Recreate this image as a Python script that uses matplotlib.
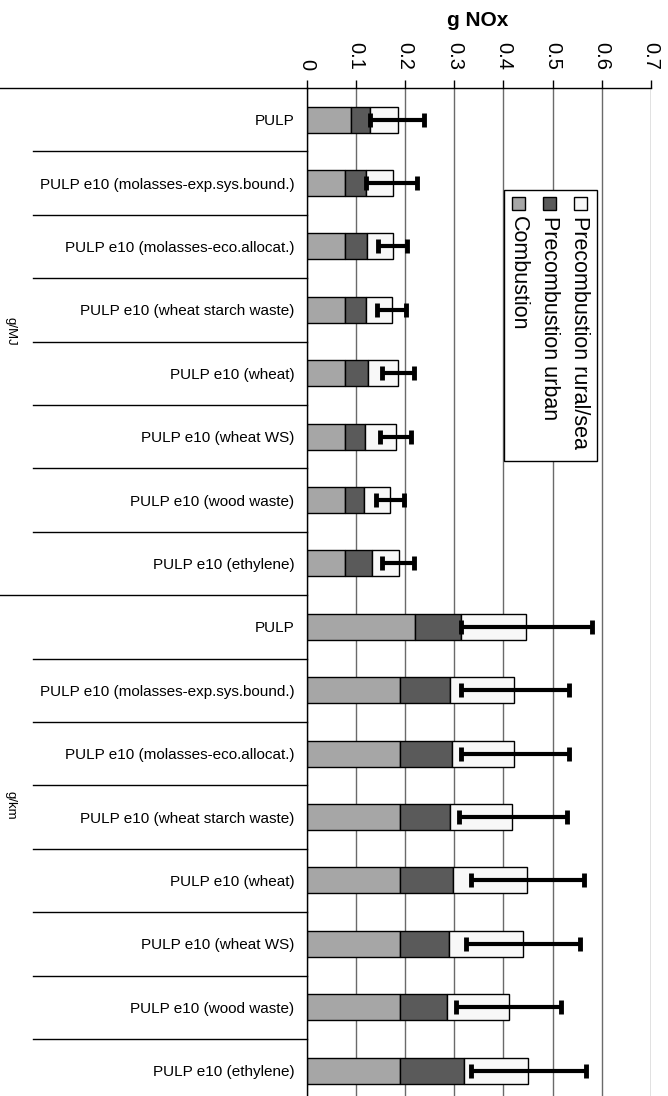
import numpy as np
import matplotlib
matplotlib.use('Agg')
import matplotlib.pyplot as plt
import matplotlib.transforms as mtransforms
from matplotlib.patches import Rectangle
from matplotlib.lines import Line2D

plt.rcParams['font.family'] = ['Liberation Sans', 'DejaVu Sans']

# data (g NOx)
labels = ['PULP', 'PULP e10 (molasses-exp.sys.bound.)', 'PULP e10 (molasses-eco.allocat.)',
          'PULP e10 (wheat starch waste)', 'PULP e10 (wheat)', 'PULP e10 (wheat WS)',
          'PULP e10 (wood waste)', 'PULP e10 (ethylene)'] * 2
groups = ['g/MJ', 'g/km']

combustion = [0.090, 0.078, 0.078, 0.078, 0.078, 0.078, 0.078, 0.078,
              0.220, 0.190, 0.190, 0.190, 0.190, 0.190, 0.190, 0.190]
precomb_urban = [0.038, 0.042, 0.044, 0.042, 0.046, 0.040, 0.038, 0.054,
                 0.093, 0.102, 0.106, 0.102, 0.108, 0.100, 0.095, 0.130]
precomb_rural = [0.057, 0.055, 0.053, 0.053, 0.062, 0.064, 0.053, 0.055,
                 0.134, 0.130, 0.126, 0.126, 0.151, 0.149, 0.127, 0.131]
err_low = [0.128, 0.120, 0.145, 0.143, 0.153, 0.149, 0.141, 0.153,
           0.313, 0.313, 0.313, 0.310, 0.333, 0.324, 0.304, 0.334]
err_high = [0.239, 0.225, 0.204, 0.202, 0.217, 0.212, 0.198, 0.218,
            0.581, 0.534, 0.533, 0.529, 0.565, 0.555, 0.518, 0.569]

W, H = 668, 1096
fig = plt.figure(figsize=(W / 100, H / 100), dpi=100)
# pixel coords with origin top-left
px = mtransforms.Affine2D().scale(1 / W, -1 / H).translate(0, 1) + fig.transFigure

ax = fig.add_axes([307 / W, 0, (650.7 - 307) / W, 1 - 88 / H])

y = np.arange(len(labels))
comb = np.array(combustion)
urb = np.array(precomb_urban)
rur = np.array(precomb_rural)
total = comb + urb + rur
barH = 0.41

c_comb, c_urb, c_rur = '#a6a6a6', '#5a5a5a', '#f8f8f8'
ax.barh(y, comb, height=barH, color=c_comb, edgecolor='black', linewidth=1, zorder=2)
ax.barh(y, urb, left=comb, height=barH, color=c_urb, edgecolor='black', linewidth=1, zorder=2)
ax.barh(y, rur, left=comb + urb, height=barH, color=c_rur, edgecolor='black', linewidth=1, zorder=2)

xerr = [total - np.array(err_low), np.array(err_high) - total]
ax.errorbar(total, y, xerr=xerr, fmt='none', ecolor='black', elinewidth=3,
            capsize=5, capthick=3.5, zorder=3)

ax.set_xlim(0, 0.7)
ax.set_ylim(15.4, -0.5)
ax.set_axisbelow(True)
ax.xaxis.grid(True, color='#6a6a6a', linewidth=1)

ax.xaxis.tick_top()
ticks = np.round(np.arange(0, 0.71, 0.1), 1)
ax.set_xticks(ticks)
ax.set_xticklabels(['0' if t == 0 else f'{t:g}' for t in ticks], rotation=-90, fontsize=14.5)
ax.tick_params(axis='x', direction='out', length=6, width=1, pad=7, top=True, bottom=False,
               labeltop=True, labelbottom=False)

ax.set_yticks(y)
ax.set_yticklabels(labels, fontsize=11)
ax.tick_params(axis='y', length=0, pad=9)

for s in ['right', 'bottom']:
    ax.spines[s].set_visible(False)
for s in ['top', 'left']:
    ax.spines[s].set_color('black')
    ax.spines[s].set_linewidth(1)

# row separators on the category side
blend = mtransforms.blended_transform_factory(fig.transFigure, ax.transData)
for i in range(-1, len(labels) - 1):
    x0 = 0 if i in (-1, 7) else 33 / W
    fig.add_artist(Line2D([x0, 307 / W], [i + 0.5, i + 0.5], transform=blend,
                          color='black', linewidth=1))

# group labels
fig.text(10, 331, groups[0], transform=px, rotation=-90, ha='center', va='center', fontsize=9.5)
fig.text(10, 805, groups[1], transform=px, rotation=-90, ha='center', va='center', fontsize=9.5)

# title
fig.text(478, 20, 'g NOx', transform=px, ha='center', va='center', fontsize=15, fontweight='bold')

# legend, rotated
fig.add_artist(Rectangle((504, 190), 93, 271, transform=px, facecolor='white',
                         edgecolor='black', linewidth=1, zorder=5))
entries = [('Precombustion rural/sea', c_rur, 580), ('Precombustion urban', c_urb, 549.5),
           ('Combustion', c_comb, 518.5)]
for name, col, xc in entries:
    fig.add_artist(Rectangle((xc - 6.5, 197), 13, 13, transform=px, facecolor=col,
                             edgecolor='black', linewidth=1, zorder=6))
    fig.text(xc, 216, name, transform=px, rotation=-90, ha='center', va='top',
             fontsize=15.5, zorder=6)

plt.savefig('out.png', dpi=100)
